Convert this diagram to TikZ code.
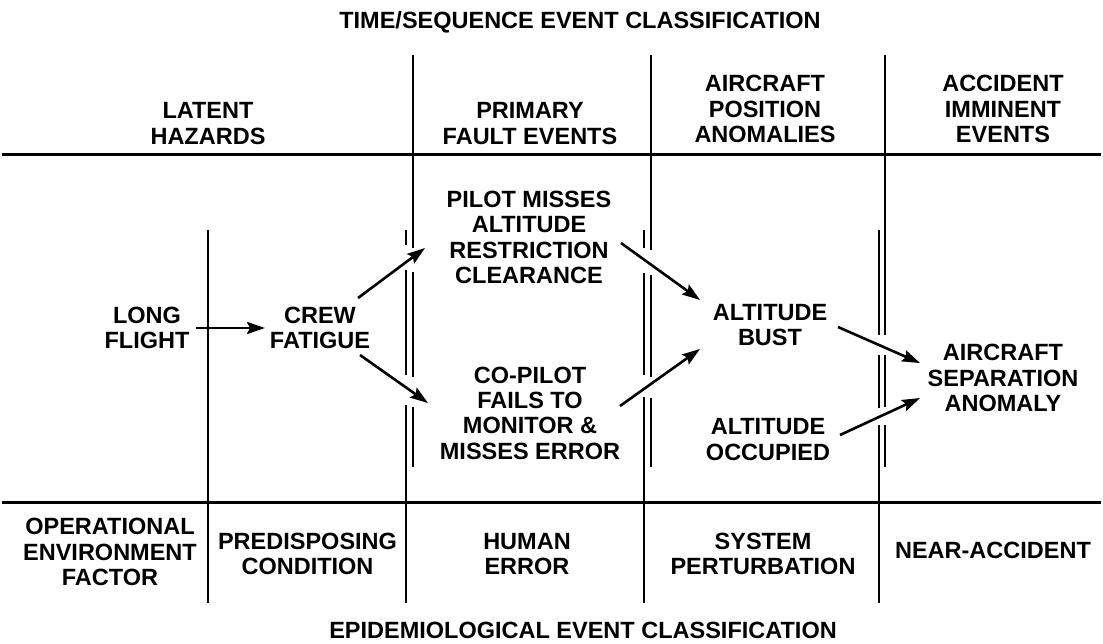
\documentclass[tikz,border=0pt]{standalone}
\usepackage{fontspec}
\setmainfont{Liberation Sans}
\usetikzlibrary{arrows.meta,calc}
\begin{document}
\begin{tikzpicture}[x=1pt,y=-1pt,
  lbl/.style={font=\fontsize{23.5}{25.3}\selectfont\bfseries, align=center, inner sep=0pt},
  rule/.style={line width=3pt},
  vline/.style={line width=2.6pt},
  dline/.style={line width=2.3pt},
  arr/.style={line width=2.6pt, -{Stealth[length=18pt,width=12pt,inset=3pt]}}]
\path[use as bounding box, fill=white] (0,0) rectangle (1103,644);
% horizontal rules
\draw[rule] (2,155) -- (1101,155);
\draw[rule] (2,502) -- (1101,502);
% vertical separators
\draw[vline] (208,230) -- (208,603);
\draw[dline] (413,55) -- (413,248) (413,272) -- (413,377) (413,407) -- (413,467);
\draw[dline] (406,230) -- (406,245) (406,270) -- (406,375) (406,405) -- (406,603);
\draw[dline] (651,55) -- (651,250) (651,275) -- (651,377) (651,398) -- (651,467);
\draw[dline] (644,230) -- (644,248) (644,273) -- (644,375) (644,397) -- (644,603);
\draw[dline] (885,55) -- (885,335) (885,355) -- (885,407) (885,425) -- (885,467);
\draw[dline] (879,230) -- (879,335) (879,355) -- (879,408) (879,425) -- (879,603);
% texts
\node[lbl] (title) at (580,22) {TIME/SEQUENCE EVENT CLASSIFICATION};
\node[lbl] (latent) at (208,123.5) {LATENT\\HAZARDS};
\node[lbl] (primary) at (530,123.5) {PRIMARY\\FAULT EVENTS};
\node[lbl] (position) at (765,109) {AIRCRAFT\\POSITION\\ANOMALIES};
\node[lbl] (imminent) at (1003,109) {ACCIDENT\\IMMINENT\\EVENTS};
\node[lbl] (pilot) at (529,237.5) {PILOT MISSES\\ALTITUDE\\RESTRICTION\\CLEARANCE};
\node[lbl] (long) at (147,328) {LONG\\FLIGHT};
\node[lbl] (crew) at (320,328) {CREW\\FATIGUE};
\node[lbl] (copilot) at (530,413) {CO-PILOT\\FAILS TO\\MONITOR \&\\MISSES ERROR};
\node[lbl] (bust) at (770,325) {ALTITUDE\\BUST};
\node[lbl] (occupied) at (768,439.5) {ALTITUDE\\OCCUPIED};
\node[lbl] (separation) at (1003,378) {AIRCRAFT\\SEPARATION\\ANOMALY};
\node[lbl] (operational) at (110,552) {OPERATIONAL\\ENVIRONMENT\\FACTOR};
\node[lbl] (predisposing) at (307.5,554) {PREDISPOSING\\CONDITION};
\node[lbl] (human) at (527,554) {HUMAN\\ERROR};
\node[lbl] (perturbation) at (763,554) {SYSTEM\\PERTURBATION};
\node[lbl] (near) at (993,550) {NEAR-ACCIDENT};
\node[lbl] (epi) at (583,630) {EPIDEMIOLOGICAL EVENT CLASSIFICATION};
% arrows
\draw[arr] ($(long.center)+(49,0)$) -- ($(crew.center)+(-55,0)$);
\draw[arr] ($(crew.center)+(38,-30)$) -- ($(pilot.center)+(-104,10.5)$);
\draw[arr] ($(crew.center)+(40,27)$) -- ($(copilot.center)+(-102,-10)$);
\draw[arr] ($(pilot.center)+(92,5.5)$) -- ($(bust.center)+(-70,-25)$);
\draw[arr] ($(copilot.center)+(90,-7)$) -- ($(bust.center)+(-70,24)$);
\draw[arr] ($(bust.center)+(68,2)$) -- ($(separation.center)+(-83,-15)$);
\draw[arr] ($(occupied.center)+(72,-4.5)$) -- ($(separation.center)+(-83,20)$);
\end{tikzpicture}
\end{document}
